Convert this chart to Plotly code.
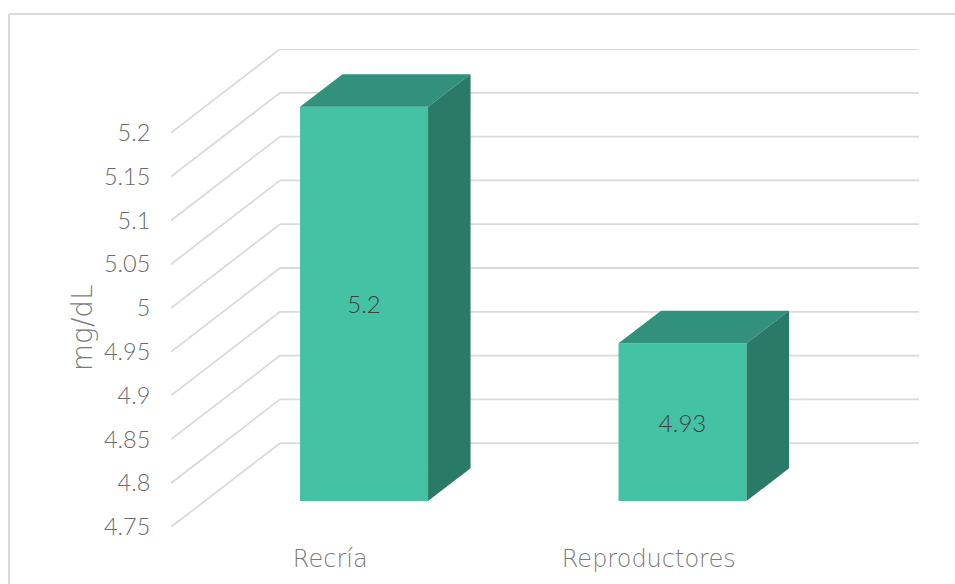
import plotly.graph_objects as go

categories = ["Recría", "Reproductores"]
values = [5.2, 4.93]
value_labels = ["5.2", "4.93"]
tick_values = [4.75, 4.8, 4.85, 4.9, 4.95, 5.0, 5.05, 5.1, 5.15, 5.2]
tick_labels = ["4.75", "4.8", "4.85", "4.9", "4.95", "5", "5.05", "5.1", "5.15", "5.2"]
axis_title = "mg/dL"

# Oblique projection of the 3D wall (one full depth step, in axis units)
DEPTH_X = 0.3422
DEPTH_Y = 0.0957
BAR_WIDTH = 0.402
BAR_NEAR = 0.31   # depth of bar front
BAR_FAR = 0.70    # depth of bar back
FLOOR = 4.75

FONT = "Lato"
WIDE_FONT = "DejaVu Sans"
GRID = "#DADADA"
FRONT = "#44C2A4"
TOP = "#32917B"
SIDE = "#297A67"


def proj(c, v, d):
    return c + d * DEPTH_X, v + d * DEPTH_Y


fig = go.Figure()

idx = list(range(len(categories)))

# front faces
fig.add_trace(go.Bar(
    x=[proj(i, 0, BAR_NEAR)[0] for i in idx],
    y=[v - FLOOR for v in values],
    base=[FLOOR + BAR_NEAR * DEPTH_Y] * len(values),
    width=BAR_WIDTH,
    marker=dict(color=FRONT, line=dict(width=0)),
    text=value_labels,
    textposition="inside",
    insidetextanchor="middle",
    textangle=0,
    textfont=dict(family=FONT, size=24, color="#404040", weight=300),
    hoverinfo="skip",
    showlegend=False,
))

# top and side faces
for i, v in zip(idx, values):
    left, right = i - BAR_WIDTH / 2, i + BAR_WIDTH / 2
    corners = [(left, v, BAR_NEAR), (right, v, BAR_NEAR), (right, v, BAR_FAR), (left, v, BAR_FAR), (left, v, BAR_NEAR)]
    pts = [proj(*p) for p in corners]
    fig.add_trace(go.Scatter(x=[p[0] for p in pts], y=[p[1] for p in pts], mode="lines",
                             fill="toself", fillcolor=TOP, line=dict(width=0),
                             hoverinfo="skip", showlegend=False))
    corners = [(right, FLOOR, BAR_NEAR), (right, FLOOR, BAR_FAR), (right, v, BAR_FAR), (right, v, BAR_NEAR), (right, FLOOR, BAR_NEAR)]
    pts = [proj(*p) for p in corners]
    fig.add_trace(go.Scatter(x=[p[0] for p in pts], y=[p[1] for p in pts], mode="lines",
                             fill="toself", fillcolor=SIDE, line=dict(width=0),
                             hoverinfo="skip", showlegend=False))

x_start = -0.5
x_end = 1.8485

# wall gridlines
shapes = []
for t in tick_values:
    x0, y0 = proj(x_start, t, 0)
    x1, y1 = proj(x_start, t, 1)
    shapes.append(dict(type="line", xref="x", yref="y", x0=x0, y0=y0, x1=x1, y1=y1,
                       line=dict(color=GRID, width=1.8), layer="below"))
    shapes.append(dict(type="line", xref="x", yref="y", x0=x1, y0=y1, x1=x_end, y1=y1,
                       line=dict(color=GRID, width=1.8), layer="below"))

# chart frame (left and top edges; the others are cut off by the picture)
frame_l, frame_t = -0.2166, 1.0732
shapes.append(dict(type="line", xref="paper", yref="paper", x0=frame_l, x1=frame_l, y0=-0.2, y1=frame_t,
                   line=dict(color=GRID, width=2), layer="below"))
shapes.append(dict(type="line", xref="paper", yref="paper", x0=frame_l, x1=1.1, y0=frame_t, y1=frame_t,
                   line=dict(color=GRID, width=2), layer="below"))

fig.update_layout(
    width=955, height=584,
    margin=dict(l=171, r=36, t=49, b=57, autoexpand=False),
    paper_bgcolor="white", plot_bgcolor="white",
    showlegend=False,
    shapes=shapes,
    xaxis=dict(range=[x_start, x_end], tickvals=idx, ticktext=categories, showgrid=False,
               zeroline=False, showline=False, ticks="outside", ticklen=10, tickcolor="rgba(0,0,0,0)",
               automargin=False,
               tickfont=dict(family=WIDE_FONT, size=24, color="#7a7a7a", weight=200)),
    yaxis=dict(range=[FLOOR, FLOOR + 0.45 + DEPTH_Y], tickvals=tick_values, ticktext=tick_labels,
               showgrid=False, zeroline=False, showline=False, ticks="outside", ticklen=15,
               tickcolor="rgba(0,0,0,0)", automargin=False,
               tickfont=dict(family=FONT, size=23.5, color="#6a6a6a", weight=300)),
    annotations=[dict(text=axis_title, textangle=-90, xref="paper", yref="paper",
                      x=-0.119, y=0.418, xanchor="center", yanchor="middle", showarrow=False,
                      font=dict(family=WIDE_FONT, size=28, color="#7a7a7a", weight=200))],
)

fig.write_html("out.html", post_script="document.body.style.margin='0';",
               config=dict(displayModeBar=False))
